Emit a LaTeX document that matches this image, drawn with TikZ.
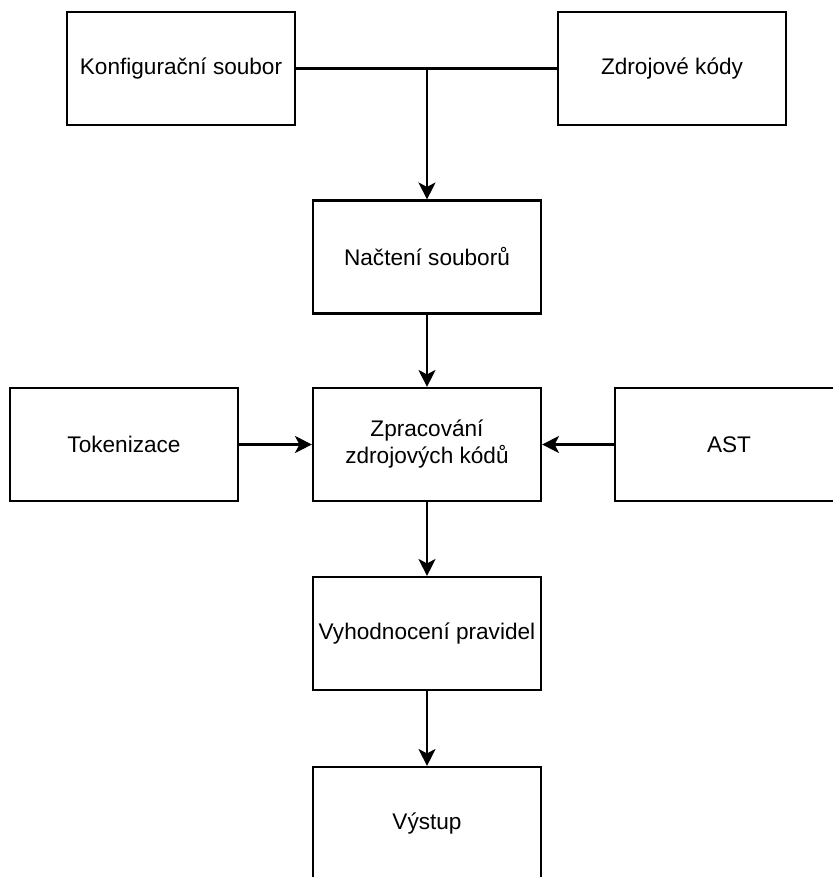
\documentclass[tikz,border=0pt]{standalone}
\usepackage{fontspec}
\setmainfont{Liberation Sans}
\usetikzlibrary{arrows.meta}
\begin{document}
\begin{tikzpicture}[x=1pt,y=-1pt,
  box/.style={draw=black,line width=2.1pt,minimum width=228pt,minimum height=113pt,inner sep=0pt,align=center,font=\fontsize{22.6}{27}\selectfont},
  conn/.style={line width=2.1pt},
  arr/.style={conn,-{Stealth[length=17pt,width=17pt,inset=4.5pt]}}]
\useasboundingbox (0,0) rectangle (832,877);
\node[box] (konf) at (181,68.5) {Konfigurační soubor};
\node[box] (zdroj) at (672,68.5) {Zdrojové kódy};
\node[box] (nac) at (427,257) {Načtení souborů};
\node[box] (tok) at (124,444.5) {Tokenizace};
\node[box] (zpr) at (427,444.5) {Zpracování\\zdrojových kódů};
\node[box] (ast) at (729,444.5) {AST};
\node[box] (vyh) at (427,633.5) {Vyhodnocení pravidel};
\node[box] (vys) at (427,823.5) {Výstup};
\coordinate (j) at (konf.east -| nac.north);
\draw[conn] (konf.east) -- (zdroj.west);
\draw[arr] (j) -- (nac.north);
\draw[arr] (nac.south) -- (zpr.north);
\draw[arr] (tok.east) -- (zpr.west);
\draw[arr] (ast.west) -- (zpr.east);
\draw[arr] (zpr.south) -- (vyh.north);
\draw[arr] (vyh.south) -- (vys.north);
\end{tikzpicture}
\end{document}
